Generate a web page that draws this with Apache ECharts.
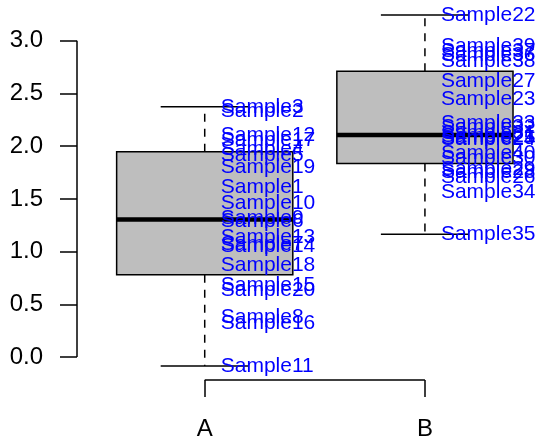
<!DOCTYPE html>
<html><head><meta charset="utf-8">
<script src="https://cdn.jsdelivr.net/npm/echarts@6/dist/echarts.min.js"></script>
<style>html,body{margin:0;padding:0;background:#fff}#c{width:539px;height:443px}</style>
</head><body><div id="c"></div>
<script>
// ---- data ----
const categories = ['A', 'B'];
const namesA = ['Sample1','Sample2','Sample3','Sample4','Sample5','Sample6','Sample7','Sample8','Sample9','Sample10',
                'Sample11','Sample12','Sample13','Sample14','Sample15','Sample16','Sample17','Sample18','Sample19','Sample20'];
const valuesA = [1.61, 2.33, 2.374, 1.975, 1.917, 1.29, 1.07, 0.375, 1.32, 1.46,
                 -0.085, 2.10, 1.14, 1.05, 0.685, 0.317, 2.06, 0.875, 1.80, 0.63];
const namesB = ['Sample21','Sample22','Sample23','Sample24','Sample25','Sample26','Sample27','Sample28','Sample29','Sample30',
                'Sample31','Sample32','Sample33','Sample34','Sample35','Sample36','Sample37','Sample38','Sample39','Sample40'];
const valuesB = [2.09, 3.244, 2.447, 2.07, 2.08, 1.71, 2.612, 1.755, 1.782, 1.89,
                 2.12, 2.18, 2.22, 1.567, 1.165, 2.86, 2.90, 2.81, 2.95, 1.93];
const yTicks = [0, 0.5, 1, 1.5, 2, 2.5, 3];

// ---- box statistics (Tukey five-number summary, as in R boxplot) ----
function fivenum(arr) {
  const x = arr.slice().sort((a, b) => a - b);
  const n = x.length;
  const n4 = Math.floor((n + 3) / 2) / 2;
  const d = [1, n4, (n + 1) / 2, n + 1 - n4, n];
  return d.map(i => 0.5 * (x[Math.floor(i) - 1] + x[Math.ceil(i) - 1]));
}
function boxStats(arr) {
  const f = fivenum(arr);
  const iqr = f[3] - f[1];
  const inside = arr.filter(v => v >= f[1] - 1.5 * iqr && v <= f[3] + 1.5 * iqr);
  return [Math.min(...inside), f[1], f[2], f[3], Math.max(...inside)];
}
const groups = [valuesA, valuesB];
const groupNames = [namesA, namesB];
const boxData = groups.map((g, i) => [i + 1].concat(boxStats(g)));
const labelData = [];
groups.forEach((g, i) => g.forEach((v, j) => labelData.push([i + 1, v, groupNames[i][j]])));

const all = valuesA.concat(valuesB);
const dMin = Math.min(...all), dMax = Math.max(...all);
const yMin = dMin - 0.04 * (dMax - dMin);
const yMax = dMax + 0.04 * (dMax - dMin);
const xMin = 0.42, xMax = 2.518;

const FONT = 'Liberation Sans, Arial, Helvetica, sans-serif';
const chart = echarts.init(document.getElementById('c'), null, {renderer: 'canvas'});
chart.setOption({
  animation: false,
  backgroundColor: '#ffffff',
  grid: {left: 77, right: 0, top: 1, bottom: 63},
  xAxis: {
    type: 'value', min: xMin, max: xMax,
    splitLine: {show: false},
    axisLine: {show: false, onZero: false},
    axisTick: {show: true, customValues: [1, 2], length: 17, inside: false, lineStyle: {color: '#000', width: 1.5}},
    axisLabel: {show: true, customValues: [1, 2], formatter: v => categories[Math.round(v) - 1] || '',
                fontSize: 24, color: '#000', margin: 37, fontFamily: FONT}
  },
  yAxis: {
    type: 'value', min: yMin, max: yMax,
    splitLine: {show: false},
    axisLine: {show: false, onZero: false},
    axisTick: {show: true, customValues: yTicks, length: 17, inside: false, lineStyle: {color: '#000', width: 1.5}},
    axisLabel: {show: true, customValues: yTicks, formatter: v => v.toFixed(1),
                fontSize: 24, color: '#000', margin: 34, fontFamily: FONT}
  },
  series: [
    {
      type: 'custom', name: 'axes', clip: false, silent: true,
      data: [[0]],
      renderItem: function (params, api) {
        const a0 = api.coord([1, yMin]);
        const a1 = api.coord([categories.length, yMin]);
        const b0 = api.coord([xMin, yTicks[0]]);
        const b1 = api.coord([xMin, yTicks[yTicks.length - 1]]);
        const st = {stroke: '#000', lineWidth: 1.5};
        return {type: 'group', children: [
          {type: 'line', shape: {x1: a0[0], y1: a0[1], x2: a1[0], y2: a1[1]}, style: st},
          {type: 'line', shape: {x1: b0[0], y1: b0[1], x2: b1[0], y2: b1[1]}, style: st}
        ]};
      }
    },
    {
      type: 'custom', name: 'box', clip: false, silent: true,
      data: boxData,
      renderItem: function (params, api) {
        const x = api.value(0);
        const lo = api.value(1), q1 = api.value(2), med = api.value(3), q3 = api.value(4), hi = api.value(5);
        const c = (xx, yy) => api.coord([xx, yy]);
        const pHi = c(x, hi), pQ3 = c(x, q3), pQ1 = c(x, q1), pLo = c(x, lo);
        const bl = c(x - 0.4, q3), br = c(x + 0.4, q1);
        const sl = c(x - 0.2, hi), sr = c(x + 0.2, hi);
        const sl2 = c(x - 0.2, lo), sr2 = c(x + 0.2, lo);
        const ml = c(x - 0.4, med), mr = c(x + 0.4, med);
        const dash = {stroke: '#000', lineWidth: 1.5, lineDash: [8, 7]};
        const solid = {stroke: '#000', lineWidth: 1.5};
        return {type: 'group', children: [
          {type: 'line', shape: {x1: pQ3[0], y1: pQ3[1], x2: pHi[0], y2: pHi[1]}, style: dash},
          {type: 'line', shape: {x1: pQ1[0], y1: pQ1[1], x2: pLo[0], y2: pLo[1]}, style: dash},
          {type: 'line', shape: {x1: sl[0], y1: sl[1], x2: sr[0], y2: sr[1]}, style: solid},
          {type: 'line', shape: {x1: sl2[0], y1: sl2[1], x2: sr2[0], y2: sr2[1]}, style: solid},
          {type: 'rect', shape: {x: bl[0], y: bl[1], width: br[0] - bl[0], height: br[1] - bl[1]},
           style: {fill: '#BEBEBE', stroke: '#000', lineWidth: 1.5}},
          {type: 'line', shape: {x1: ml[0], y1: ml[1], x2: mr[0], y2: mr[1]}, style: {stroke: '#000', lineWidth: 4.5}}
        ]};
      }
    },
    {
      type: 'custom', name: 'labels', clip: false, silent: true,
      data: labelData,
      renderItem: function (params, api) {
        const p = api.coord([api.value(0), api.value(1)]);
        const name = labelData[params.dataIndex][2];
        return {type: 'text', x: p[0] + 16, y: p[1],
                style: {text: name, fill: '#0000FF', font: '21px ' + FONT, align: 'left', verticalAlign: 'middle'}};
      }
    }
  ]
});
</script>
</body></html>
